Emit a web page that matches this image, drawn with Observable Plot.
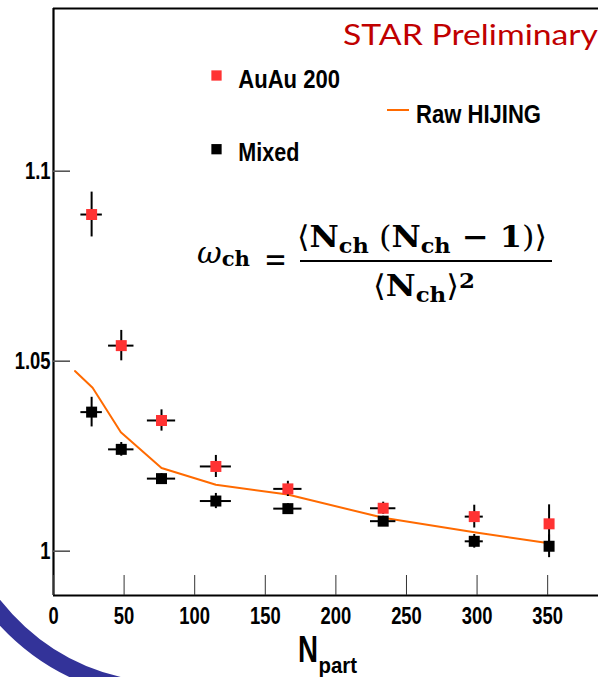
<!DOCTYPE html>
<html>
<head>
<meta charset="utf-8">
<script src="https://cdn.jsdelivr.net/npm/d3@7"></script>
<script src="https://cdn.jsdelivr.net/npm/@observablehq/plot@0.6"></script>
<style>
  html, body { margin: 0; padding: 0; background: #fff; }
  #chart { width: 598px; height: 677px; overflow: hidden; }
</style>
</head>
<body>
<div id="chart"></div>
<script>
// Scaled multiplicity fluctuation omega_ch versus number of participants
const nPart       = [27, 48, 76.5, 115, 166, 233.5, 298, 351];
const nPartErr    = [7.6, 9, 10, 11, 10, 9, 6.4, 2];
const auau        = [1.0886, 1.0541, 1.0344, 1.0223, 1.0164, 1.0113, 1.0091, 1.0072];
const auauErr     = [0.0059, 0.0040, 0.0028, 0.0029, 0.0020, 0.0016, 0.0030, 0.0050];
const mixed       = [1.0366, 1.0268, 1.0191, 1.0132, 1.0112, 1.0079, 1.0026, 1.0013];
const mixedErr    = [0.0039, 0.0018, 0.0013, 0.0020, 0.0013, 0.0013, 0.0018, 0.0030];
const hijingN     = [15.2, 27.7, 47.7, 76.5, 115, 165.8, 233.5, 298, 351];
const hijing      = [1.0474, 1.0430, 1.0313, 1.0219, 1.0175, 1.0149, 1.0088, 1.0050, 1.0021];
const xTicks      = [0, 50, 100, 150, 200, 250, 300, 350];
const yTicks      = [1, 1.05, 1.1];
const yTickLabels = ["1", "1.05", "1.1"];
const seriesNames = ["AuAu 200", "Mixed", "Raw HIJING"];

const xDomain = [0, 386];
const yDomain = [0.98834, 1.14282];

const RED = "#ff3333";
const ORANGE = "#ff6a00";
const SANS = "'Liberation Sans', Arial, Helvetica, sans-serif";
const SERIF = "'DejaVu Serif', 'Liberation Serif', serif";

const rows = (ys, es) => nPart.map((x, i) => ({x, xe: nPartErr[i], y: ys[i], ye: es[i]}));
const auauRows = rows(auau, auauErr);
const mixedRows = rows(mixed, mixedErr);
const hijingRows = hijingN.map((x, i) => ({x, y: hijing[i]}));

const errorBars = (data) => [
  Plot.ruleX(data, {x: "x", y1: d => d.y - d.ye, y2: d => d.y + d.ye, stroke: "black", strokeWidth: 2}),
  Plot.ruleY(data, {y: "y", x1: d => d.x - d.xe, x2: d => d.x + d.xe, stroke: "black", strokeWidth: 2})
];

const chart = Plot.plot({
  width: 598,
  height: 677,
  marginLeft: 53,
  marginRight: 0,
  marginTop: 8,
  marginBottom: 82,
  style: {background: "white", fontFamily: SANS},
  x: {domain: xDomain},
  y: {domain: yDomain},
  marks: [
    // frame: left, top and bottom edges
    Plot.ruleX([xDomain[0]], {stroke: "black", strokeWidth: 2.2}),
    Plot.ruleY([yDomain[1]], {stroke: "black", strokeWidth: 2.2}),
    Plot.ruleY([yDomain[0]], {stroke: "black", strokeWidth: 2.2}),
    Plot.axisX(xTicks, {
      tickSize: -20, tickPadding: 32, stroke: "#333", strokeWidth: 1,
      fontSize: 23, fontWeight: "bold", fill: "black", label: null
    }),
    Plot.axisY(yTicks, {
      tickSize: -17, tickPadding: 20, stroke: "#555", strokeWidth: 1.6,
      tickFormat: (d, i) => yTickLabels[i],
      fontSize: 23, fontWeight: "bold", fill: "black", label: null
    }),
    Plot.line(hijingRows, {x: "x", y: "y", stroke: ORANGE, strokeWidth: 2}),
    ...errorBars(mixedRows),
    ...errorBars(auauRows),
    Plot.dot(mixedRows, {x: "x", y: "y", symbol: "square", r: 6.2, fill: "black", stroke: "none"}),
    Plot.dot(auauRows, {x: "x", y: "y", symbol: "square", r: 6.2, fill: RED, stroke: "none"}),
    // legend swatches
    Plot.dot([0], {frameAnchor: "top-left", dx: 163, dy: 67, symbol: "square", r: 5.8, fill: RED, stroke: "none"}),
    Plot.dot([0], {frameAnchor: "top-left", dx: 163, dy: 140.7, symbol: "square", r: 5.8, fill: "black", stroke: "none"})
  ]
});

document.getElementById("chart").appendChild(chart);
const svg = d3.select(chart);

// condensed look of the axis numbers
svg.selectAll("g[aria-label='x-axis tick label'] text, g[aria-label='y-axis tick label'] text")
  .each(function () {
    const w = this.getComputedTextLength();
    this.setAttribute("textLength", (w * 0.8).toFixed(1));
    this.setAttribute("lengthAdjust", "spacingAndGlyphs");
  });

// text helper: baseline-anchored, left-aligned text fitted to a given width
function label(parent, str, x, y, size, width, attrs = {}) {
  const t = parent.append("text")
    .attr("x", x).attr("y", y)
    .attr("text-anchor", "start")
    .attr("font-size", size)
    .text(str);
  for (const [k, v] of Object.entries(attrs)) t.attr(k, v);
  if (width) t.attr("textLength", width).attr("lengthAdjust", "spacingAndGlyphs");
  return t;
}

const ann = svg.append("g").attr("font-family", SANS).attr("fill", "black").attr("text-anchor", "start");
label(ann, seriesNames[0], 238.3, 87.7, 25, 101.7, {"font-weight": "bold"});
label(ann, seriesNames[1], 238.3, 161, 25, 61, {"font-weight": "bold"});
label(ann, seriesNames[2], 416, 123, 26.5, 125, {"font-weight": "bold"});
ann.append("line")
  .attr("x1", 387).attr("x2", 409).attr("y1", 110).attr("y2", 110)
  .attr("stroke", ORANGE).attr("stroke-width", 2);
label(ann, "STAR Preliminary", 343, 45, 28, 255, {"font-family": "Lato, 'Open Sans', sans-serif", fill: "#c00000"});

// x-axis title N_part
label(ann, "N", 298, 662, 36, 20, {"font-weight": "bold"});
label(ann, "part", 318.5, 673, 22, 38.5, {"font-weight": "bold"});

// definition of omega_ch
const f = svg.append("g").attr("font-family", SERIF).attr("fill", "black").attr("text-anchor", "start");
const om = f.append("text").attr("x", 197).attr("y", 263).attr("font-size", 30).attr("text-anchor", "start")
  .attr("textLength", 53).attr("lengthAdjust", "spacingAndGlyphs");
om.append("tspan").attr("font-style", "italic").text("ω");
om.append("tspan").attr("dy", 3).attr("font-size", 21).attr("font-weight", "bold").text("ch");
label(f, "=", 264, 271, 34, 23);

const num = f.append("text").attr("x", 297).attr("y", 247).attr("font-size", 30).attr("text-anchor", "start")
  .attr("textLength", 250).attr("lengthAdjust", "spacingAndGlyphs");
num.append("tspan").text("⟨");
num.append("tspan").attr("font-weight", "bold").text("N");
num.append("tspan").attr("dy", 6).attr("font-size", 21).attr("font-weight", "bold").text("ch");
num.append("tspan").attr("dy", -6).text(" (");
num.append("tspan").attr("font-weight", "bold").text("N");
num.append("tspan").attr("dy", 6).attr("font-size", 21).attr("font-weight", "bold").text("ch");
num.append("tspan").attr("dy", -6).attr("font-weight", "bold").text(" − 1");
num.append("tspan").text(")⟩");

f.append("line").attr("x1", 300).attr("x2", 552).attr("y1", 261).attr("y2", 261)
  .attr("stroke", "black").attr("stroke-width", 2);

const den = f.append("text").attr("x", 373).attr("y", 296).attr("font-size", 30).attr("text-anchor", "start")
  .attr("textLength", 102).attr("lengthAdjust", "spacingAndGlyphs");
den.append("tspan").text("⟨");
den.append("tspan").attr("font-weight", "bold").text("N");
den.append("tspan").attr("dy", 6).attr("font-size", 21).attr("font-weight", "bold").text("ch");
den.append("tspan").attr("dy", -6).text("⟩");
den.append("tspan").attr("dy", -8).attr("font-size", 21).attr("font-weight", "bold").text("2");

// slide ornament in the lower-left corner
svg.append("path")
  .attr("d", "M -12,598 Q 40,668 122,686")
  .attr("fill", "none").attr("stroke", "#333399").attr("stroke-width", 17);
</script>
</body>
</html>
